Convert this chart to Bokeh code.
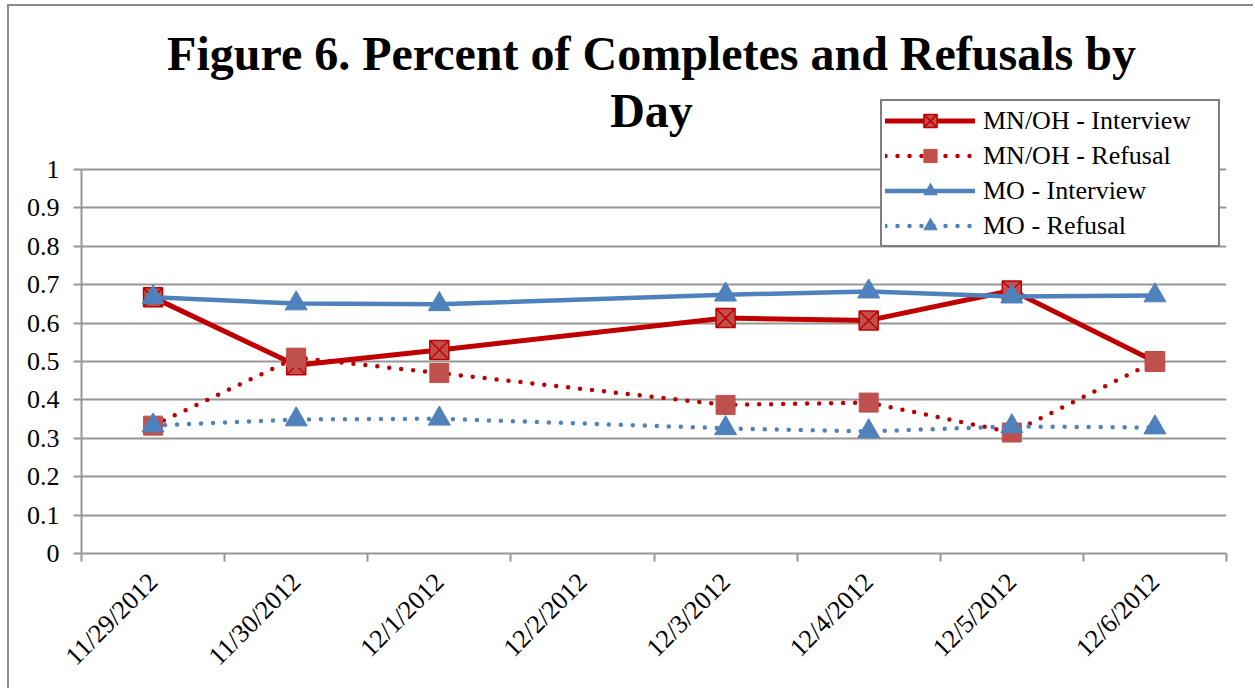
import math
from bokeh.plotting import figure
from bokeh.models import (Range1d, FixedTicker, CustomJSTickFormatter, Legend, LegendItem, Label)
from bokeh.embed import file_html
from bokeh.resources import INLINE

dates = ["11/29/2012", "11/30/2012", "12/1/2012", "12/2/2012",
         "12/3/2012", "12/4/2012", "12/5/2012", "12/6/2012"]
mnoh_interview = [0.667, 0.490, 0.530, None, 0.613, 0.607, 0.685, 0.500]
mnoh_refusal = [0.333, 0.510, 0.470, None, 0.387, 0.393, 0.315, 0.500]
mo_interview = [0.667, 0.651, 0.649, None, 0.674, 0.682, 0.669, 0.672]
mo_refusal = [0.333, 0.349, 0.351, None, 0.326, 0.318, 0.331, 0.328]
y_ticks = [0, 0.1, 0.2, 0.3, 0.4, 0.5, 0.6, 0.7, 0.8, 0.9, 1]
title_lines = ["Figure 6. Percent of Completes and Refusals by", "Day"]

RED_LINE = "#C00000"
RED_MARK = "#C0504D"
BLUE = "#4F81BD"
GRID = "#969696"
FONT = "Liberation Serif"

# the frame reaches up to the top so that the title and legend (which sit
# above the value 1 line) are not clipped; axis and grid stop at 1
Y_TOP = 547 / 384


def xy(vals):
    xs, ys = [], []
    for i, v in enumerate(vals):
        if v is not None:
            xs.append(i + 0.5)
            ys.append(v)
    return xs, ys


p = figure(width=1246, height=684, output_backend="svg", toolbar_location=None,
           x_range=Range1d(0, len(dates)), y_range=Range1d(0, Y_TOP),
           min_border_left=72, min_border_right=29, min_border_top=0, min_border_bottom=137,
           styles={"margin-left": "7px", "margin-top": "4px",
                   "border-left": "2px solid #8a8a8a", "border-top": "2px solid #8a8a8a"})
p.outline_line_color = None
p.background_fill_color = "white"
p.border_fill_color = "white"

# title
for text, y in zip(title_lines, [500, 443]):
    p.add_layout(Label(x=570, y=y, x_units="screen", y_units="screen", text=text,
                       text_font=FONT, text_font_style="bold", text_font_size="48px",
                       text_color="black", text_align="center", text_baseline="alphabetic"))

# axes
xa = p.xaxis[0]
xa.ticker = FixedTicker(ticks=[i + 0.5 for i in range(len(dates))],
                        minor_ticks=list(range(len(dates) + 1)))
xa.major_label_overrides = {i + 0.5: d for i, d in enumerate(dates)}
xa.major_tick_out = 0
xa.major_tick_in = 0
xa.minor_tick_out = 8
xa.minor_tick_in = 0
xa.minor_tick_line_color = GRID
xa.minor_tick_line_width = 2
xa.axis_line_color = GRID
xa.axis_line_width = 2
xa.major_label_orientation = math.pi / 4
xa.major_label_text_font = FONT
xa.major_label_text_font_size = "26px"
xa.major_label_text_color = "black"
xa.major_label_standoff = 16

ya = p.yaxis[0]
ya.bounds = (0, 1)
ya.ticker = FixedTicker(ticks=y_ticks, minor_ticks=[])
ya.formatter = CustomJSTickFormatter(code="return tick.toFixed(1).replace(/\\.0$/, '');")
ya.major_tick_out = 8
ya.major_tick_in = 0
ya.major_tick_line_color = GRID
ya.major_tick_line_width = 2
ya.axis_line_color = GRID
ya.axis_line_width = 2
ya.major_label_text_font = FONT
ya.major_label_text_font_size = "26px"
ya.major_label_text_color = "black"
ya.major_label_standoff = 14

p.xgrid.grid_line_color = None
p.ygrid.ticker = FixedTicker(ticks=y_ticks)
p.ygrid.grid_line_color = GRID
p.ygrid.grid_line_width = 2

# series
x1, y1 = xy(mnoh_interview)
l1 = p.line(x1, y1, line_color=RED_LINE, line_width=5, line_join="round", line_cap="round")
m1 = p.scatter(x1, y1, marker="square_x", size=19, fill_color=RED_MARK, line_color=RED_LINE, line_width=1.5)

x2, y2 = xy(mnoh_refusal)
l2 = p.line(x2, y2, line_color=RED_LINE, line_width=4.5, line_dash="0 12", line_cap="round")
m2 = p.scatter(x2, y2, marker="square", size=19, fill_color=RED_MARK, line_color=RED_MARK, line_width=1)

x3, y3 = xy(mo_interview)
l3 = p.line(x3, y3, line_color=BLUE, line_width=4.5, line_join="round", line_cap="round")
m3 = p.scatter(x3, y3, marker="triangle", size=22, fill_color=BLUE, line_color=BLUE, line_width=1)

x4, y4 = xy(mo_refusal)
l4 = p.line(x4, y4, line_color=BLUE, line_width=4.5, line_dash="0 12", line_cap="round")
m4 = p.scatter(x4, y4, marker="triangle", size=22, fill_color=BLUE, line_color=BLUE, line_width=1)

legend = Legend(items=[
    LegendItem(label="MN/OH - Interview", renderers=[l1, m1]),
    LegendItem(label="MN/OH - Refusal", renderers=[l2, m2]),
    LegendItem(label="MO - Interview", renderers=[l3, m3]),
    LegendItem(label="MO - Refusal", renderers=[l4, m4]),
], location=(799, 306))
legend.label_text_font = FONT
legend.label_text_font_size = "26px"
legend.label_text_color = "black"
legend.glyph_width = 90
legend.glyph_height = 33
legend.label_height = 33
legend.label_width = 232
legend.label_standoff = 8
legend.spacing = 2
legend.padding = 3
legend.margin = 0
legend.border_line_color = "black"
legend.border_line_width = 2
legend.background_fill_color = "white"
legend.background_fill_alpha = 1
p.add_layout(legend, "center")

open("out.html", "w").write(file_html(p, INLINE))
